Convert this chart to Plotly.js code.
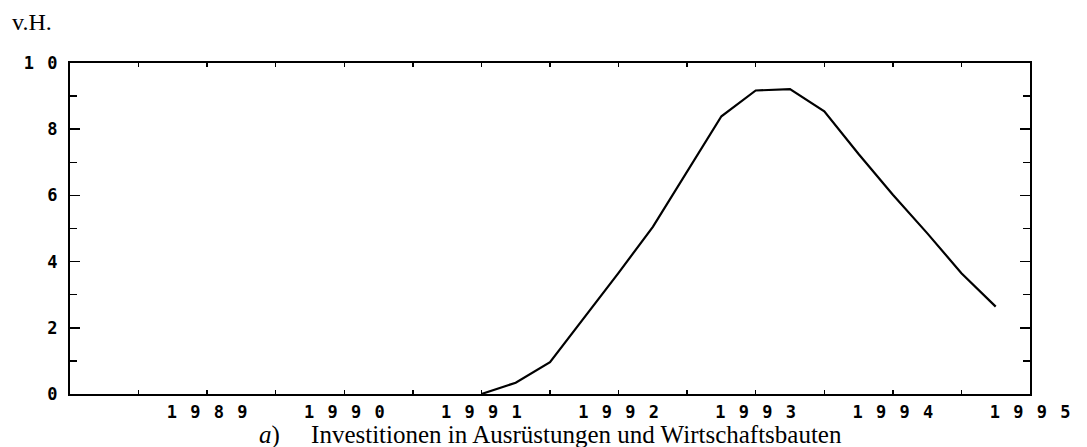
<!DOCTYPE html>
<html>
<head>
<meta charset="utf-8">
<script src="https://cdn.plot.ly/plotly-3.0.1.min.js"></script>
<style>html,body{margin:0;padding:0;background:#fff;}#chart{width:1087px;height:447px;}</style>
</head>
<body>
<div id="chart"></div>
<script>
// Quarterly observations (year fraction) and values in v.H.
var quarters = [1991.0, 1991.25, 1991.5, 1991.75, 1992.0, 1992.25, 1992.5, 1992.75,
                1993.0, 1993.25, 1993.5, 1993.75, 1994.0, 1994.25, 1994.5, 1994.75];
var values   = [0.00, 0.34, 0.96, 2.30, 3.66, 5.05, 6.70, 8.39,
                9.17, 9.21, 8.54, 7.25, 6.02, 4.86, 3.65, 2.64];

var xTickVals = [1989, 1990, 1991, 1992, 1993, 1994, 1995];
var xTickText = ["1989", "1990", "1991", "1992", "1993", "1994", "1995"];
var yTickVals = [0, 2, 4, 6, 8, 10];
var yTickText = ["0", "2", "4", "6", "8", "10"];

var unitLabel = "v.H.";
var caption = "<i>a</i>)\u00A0\u00A0\u00A0\u00A0 Investitionen in Ausrüstungen und Wirtschaftsbauten";

// wide plotter-style lettering: digits separated by a fixed gap
function spaced(s) {
  return s.split("").join('<span style="font-size:22px">\u00A0</span>');
}

var trace = {
  x: quarters, y: values, type: "scatter", mode: "lines",
  line: {color: "#000", width: 2.2}, hoverinfo: "skip"
};

var tickFont = {family: "DejaVu Sans Mono", size: 17, color: "#000", weight: "bold"};

var layout = {
  width: 1087, height: 447,
  margin: {l: 70, r: 57, t: 63, b: 53},
  paper_bgcolor: "#fff", plot_bgcolor: "#fff",
  showlegend: false,
  xaxis: {
    range: [1988, 1995], showgrid: false, zeroline: false,
    showline: true, linecolor: "#000", linewidth: 2, mirror: "ticks",
    ticks: "inside", ticklen: 4, tickwidth: 1.5, tickcolor: "#000",
    tickmode: "array", tickvals: xTickVals, ticktext: xTickText.map(spaced),
    tickfont: tickFont, ticklabelstandoff: 2,
    minor: {ticks: "inside", ticklen: 4, tickwidth: 1.5, tickcolor: "#000", dtick: 0.5, tick0: 1988, showgrid: false}
  },
  yaxis: {
    range: [0, 10], showgrid: false, zeroline: false,
    showline: true, linecolor: "#000", linewidth: 2, mirror: "ticks",
    ticks: "inside", ticklen: 10, tickwidth: 1.5, tickcolor: "#000",
    tickmode: "array", tickvals: yTickVals, ticktext: yTickText.map(spaced),
    tickfont: tickFont, ticklabelstandoff: 7,
    minor: {ticks: "inside", ticklen: 7, tickwidth: 1.5, tickcolor: "#000", dtick: 1, tick0: 0, showgrid: false}
  },
  annotations: [
    {text: unitLabel, xref: "paper", yref: "paper", x: -0.0625, y: 1.124,
     xanchor: "left", yanchor: "middle", showarrow: false,
     font: {family: "Liberation Serif", size: 24, color: "#000"}},
    {text: caption, xref: "paper", yref: "paper", x: 0.5, y: -0.124,
     xanchor: "center", yanchor: "middle", showarrow: false,
     font: {family: "Liberation Serif", size: 25, color: "#000"}}
  ]
};

Plotly.newPlot("chart", [trace], layout, {staticPlot: true, displayModeBar: false});
</script>
</body>
</html>
